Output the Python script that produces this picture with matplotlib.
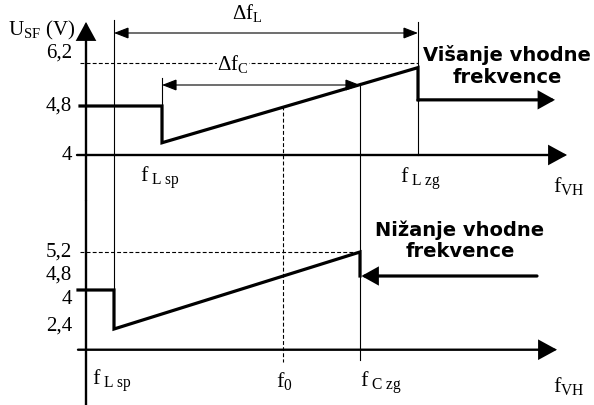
import numpy as np
import matplotlib.pyplot as plt
from matplotlib.transforms import blended_transform_factory

plt.rcParams['mathtext.fontset'] = 'custom'
plt.rcParams['mathtext.rm'] = 'Liberation Serif'
plt.rcParams['mathtext.it'] = 'Liberation Serif:italic'
plt.rcParams['font.family'] = 'Liberation Serif'

# schematic input frequencies (arbitrary units)
f_L_sp, f_C_sp, f_0, f_C_zg, f_L_zg = 2.8, 7.6, 19.7, 27.4, 33.2

# labelled U_SF levels (V)
top_levels = [4.0, 4.8, 6.2]
top_labels = ['4', '4,8', '6,2']
bot_levels = [2.4, 4.0, 4.8, 5.2]
bot_labels = ['2,4', '4', '4,8', '5,2']

# rising input frequency (top)
up_f = [-0.6, f_C_sp, f_C_sp, f_L_zg, f_L_zg]
up_u = [4.8, 4.8, 4.2, 6.05, 5.0]
up_end = 46.9

# falling input frequency (bottom)
down_f = [f_C_zg, f_C_zg, f_L_sp, f_L_sp, -0.8]
down_u = [4.8, 5.2, 2.4, 4.0, 4.0]
down_start = 45.1

u_axis_top, u_axis_bot = 4.0, 1.55

# layout: pixel rows of the levels (the drawing is not to scale)
top_rows = [155, 106, 63]
bot_rows = [329, 290, 276, 252]
top_label_dy = [0, 0, 10]
bot_label_dy = [3, -9, 1, 0]

W, H = 594, 405
THICK, AXLW, THIN = 2.3, 1.7, 0.8


def row_scale(levels, rows):
    # piecewise linear voltage -> pixel row, extended linearly at both ends
    lv = np.array(levels, float)
    rw = -np.array(rows, float)

    def fwd(u):
        u = np.asarray(u, float)
        lo = rw[0] + (u - lv[0]) * (rw[1] - rw[0]) / (lv[1] - lv[0])
        hi = rw[-1] + (u - lv[-1]) * (rw[-1] - rw[-2]) / (lv[-1] - lv[-2])
        return np.where(u < lv[0], lo, np.where(u > lv[-1], hi, np.interp(u, lv, rw)))

    def inv(r):
        r = np.asarray(r, float)
        lo = lv[0] + (r - rw[0]) * (lv[1] - lv[0]) / (rw[1] - rw[0])
        hi = lv[-1] + (r - rw[-1]) * (lv[-1] - lv[-2]) / (rw[-1] - rw[-2])
        return np.where(r < rw[0], lo, np.where(r > rw[-1], hi, np.interp(r, rw, lv)))

    return fwd, inv


def arrow(ax, start, end, lw, hl, hw, ms=20, style='-|>', coords='data'):
    ax.annotate('', xy=end, xytext=start, xycoords=coords, textcoords=coords,
                arrowprops=dict(arrowstyle=f'{style},head_length={hl},head_width={hw}',
                                lw=lw, color='k', shrinkA=0, shrinkB=0,
                                mutation_scale=ms, joinstyle='miter'),
                annotation_clip=False)


fig = plt.figure(figsize=(W / 100, H / 100), dpi=100)
ax_t = fig.add_axes([0, 205 / H, 1, 200 / H])
ax_b = fig.add_axes([0, 0, 1, 205 / H])

fwd_t, inv_t = row_scale(top_levels, top_rows)
fwd_b, inv_b = row_scale(bot_levels, bot_rows)
rt = lambda r: float(inv_t(-r))
rb = lambda r: float(inv_b(-r))

for ax, fwd, inv, r0, r1 in [(ax_t, fwd_t, inv_t, 200, 0), (ax_b, fwd_b, inv_b, 405, 200)]:
    ax.set_xlim(-8.6, 50.8)
    ax.set_yscale('function', functions=(fwd, inv))
    ax.set_ylim(float(inv(-r0)), float(inv(-r1)))
    ax.axis('off')

# ---------- top: rising input frequency ----------
trans_t = blended_transform_factory(ax_t.transData, ax_t.transAxes)
arrow(ax_t, (0, 0), (0, 1 - 22 / 200), AXLW, 0.55, 0.3, coords=trans_t)
arrow(ax_t, (-0.9, u_axis_top), (48.1, u_axis_top), AXLW, 0.55, 0.3)

ax_t.axvline(f_L_sp, ymin=0, ymax=1 - 20 / 200, color='k', lw=THIN)
ax_t.plot([f_L_zg, f_L_zg], [u_axis_top, rt(22)], color='k', lw=THIN)
ax_t.plot([f_C_sp, f_C_sp], [up_u[2], rt(78)], color='k', lw=THIN)
ax_t.axvline(f_C_zg, ymin=0, ymax=1 - 83 / 200, color='k', lw=THIN)
ax_t.plot([f_0, f_0], [4.8, rt(200)], color='k', lw=THIN, ls=(0, (3.5, 2)))
ax_t.plot([-0.6, f_L_zg], [6.2, 6.2], color='k', lw=THIN, ls=(0, (3.5, 2)))

arrow(ax_t, (f_L_sp, rt(33)), (f_L_zg, rt(33)), THIN, 0.9, 0.35, ms=10, style='<|-|>')
arrow(ax_t, (f_C_sp, rt(85)), (f_C_zg, rt(85)), THIN, 0.9, 0.35, ms=10, style='<|-|>')
ax_t.text(16.1, rt(13), r'$\Delta$f$_{\rm L}$', fontsize=15, ha='center', va='center')
ax_t.text(14.7, rt(64), r'$\Delta$f$_{\rm C}$', fontsize=15, ha='center', va='center',
          bbox=dict(facecolor='white', edgecolor='none', pad=0.5))

ax_t.plot(up_f, up_u, color='k', lw=THICK, solid_joinstyle='miter')
arrow(ax_t, (f_L_zg, up_u[-1]), (up_end, up_u[-1]), THICK, 0.45, 0.25)

for lv, lab, dy in zip(top_levels, top_labels, top_label_dy):
    ax_t.text(-1.4, rt(top_rows[top_levels.index(lv)] - dy), lab, fontsize=15,
              ha='right', va='center')
ax_t.text(-1.1, rt(35), r'U$_{\rm SF}$ (V)', fontsize=15, ha='right', va='baseline')

ax_t.text(5.4, rt(182), r'f$_{\ \rm L\ sp}$', fontsize=16, ha='left', va='baseline')
ax_t.text(31.4, rt(183), r'f$_{\ \rm L\ zg}$', fontsize=16, ha='left', va='baseline')
ax_t.text(46.7, rt(192), r'f$_{\rm VH}$', fontsize=16, ha='left', va='baseline')
ax_t.text(42.1, rt(66), 'Višanje vhodne\nfrekvence', family='DejaVu Sans',
          fontweight='bold', fontsize=14, ha='center', va='center', linespacing=1.15)

# ---------- bottom: falling input frequency ----------
ax_b.axvline(0, color='k', lw=AXLW)
arrow(ax_b, (-0.8, u_axis_bot), (47.1, u_axis_bot), AXLW, 0.55, 0.3)

ax_b.plot([f_L_sp, f_L_sp], [ax_b.get_ylim()[1], down_u[-1]], color='k', lw=THIN)
ax_b.plot([f_C_zg, f_C_zg], [ax_b.get_ylim()[1], rb(360)], color='k', lw=THIN)
ax_b.plot([f_0, f_0], [ax_b.get_ylim()[1], rb(362)], color='k', lw=THIN, ls=(0, (3.5, 2)))
ax_b.plot([-0.6, f_C_zg], [5.2, 5.2], color='k', lw=THIN, ls=(0, (3.5, 2)))

ax_b.plot(down_f, down_u, color='k', lw=THICK, solid_joinstyle='miter')
arrow(ax_b, (down_start, down_u[0]), (f_C_zg + 0.15, down_u[0]), THICK, 0.45, 0.25)

for lv, lab, dy in zip(bot_levels, bot_labels, bot_label_dy):
    ax_b.text(-1.4, rb(bot_rows[bot_levels.index(lv)] - dy), lab, fontsize=15,
              ha='right', va='center')

ax_b.text(0.6, rb(385), r'f$_{\ \rm L\ sp}$', fontsize=16, ha='left', va='baseline')
ax_b.text(19.0, rb(387), r'f$_0$', fontsize=16, ha='left', va='baseline')
ax_b.text(27.4, rb(387), r'f$_{\ \rm C\ zg}$', fontsize=16, ha='left', va='baseline')
ax_b.text(46.7, rb(392), r'f$_{\rm VH}$', fontsize=16, ha='left', va='baseline')
ax_b.text(37.4, rb(241), 'Nižanje vhodne\nfrekvence', family='DejaVu Sans',
          fontweight='bold', fontsize=14, ha='center', va='center', linespacing=1.15)

fig.savefig('out.png', dpi=100)
